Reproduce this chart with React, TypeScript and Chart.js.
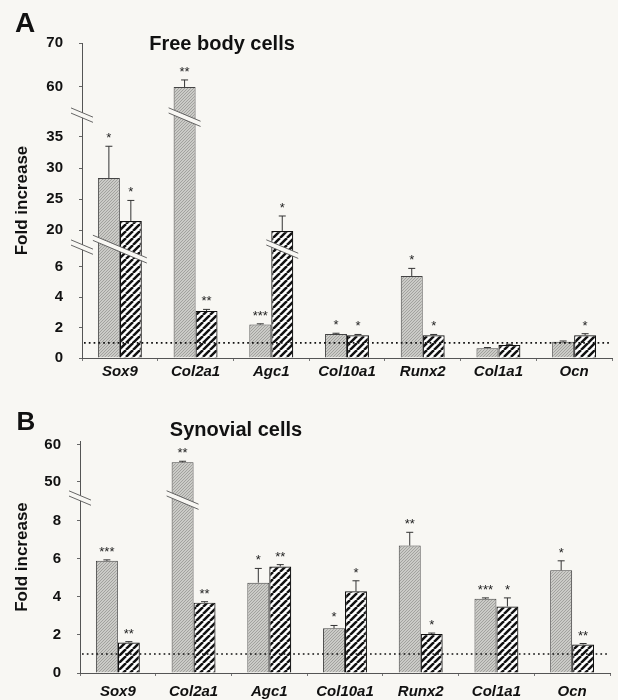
import React, { useEffect, useRef } from 'react';
import { Chart, LinearScale, registerables } from 'chart.js';

// ---------------- data ----------------
const genes = ['Sox9', 'Col2a1', 'Agc1', 'Col10a1', 'Runx2', 'Col1a1', 'Ocn'];

// Panel A: Free body cells
const freeGray = [28.4, 60, 2.2, 1.58, 5.4, 0.64, 1.07];
const freeGrayErr = [5.1, 1.6, 0.05, 0.05, 0.5, 0.05, 0.05];
const freeHatch = [21.5, 3.1, 19.9, 1.5, 1.5, 0.85, 1.5];
const freeHatchErr = [3.3, 0.1, 2.4, 0.05, 0.05, 0.05, 0.1];
const freeGrayStars = ['*', '**', '***', '*', '*', '', ''];
const freeHatchStars = ['*', '**', '*', '*', '*', '', '*'];
const freeTicks = [0, 2, 4, 6, 20, 25, 30, 35, 60, 70];

// Panel B: Synovial cells
const synGray = [5.9, 55.2, 4.75, 2.35, 6.7, 3.9, 5.4];
const synGrayErr = [0.05, 0.3, 0.75, 0.15, 0.7, 0.05, 0.5];
const synHatch = [1.6, 3.7, 5.6, 4.3, 2.05, 3.5, 1.5];
const synHatchErr = [0.05, 0.05, 0.1, 0.55, 0.05, 0.45, 0.05];
const synGrayStars = ['***', '**', '*', '*', '**', '***', '*'];
const synHatchStars = ['**', '**', '**', '*', '*', '*', '**'];
const synTicks = [0, 2, 4, 6, 8, 50, 60];

// broken-axis segments (value ranges and their share of axis height)
type Seg = { from: number; to: number; share: number };
const freeSegments: Seg[] = [
  { from: 0, to: 7.3, share: 0.352 },
  { from: 17.3, to: 38.5, share: 0.419 },
  { from: 53.6, to: 70, share: 0.229 },
];
const synSegments: Seg[] = [
  { from: 0, to: 9.2, share: 0.754 },
  { from: 45.5, to: 61, share: 0.246 },
];
const SEGMENTS: Record<string, Seg[]> = { free: freeSegments, syn: synSegments };

const BG = '#f8f7f3';
const FONT = '"Liberation Sans", Arial, Helvetica, sans-serif';

// ---------------- broken scale ----------------
class BrokenScale extends LinearScale {
  static id = 'broken';
  segs(): Seg[] {
    return SEGMENTS[(this.options as any).segmentKey] || [{ from: 0, to: 1, share: 1 }];
  }
  getPixelForValue(value: number) {
    const segs = this.segs();
    const h = this.bottom - this.top;
    let acc = 0;
    for (let i = 0; i < segs.length; i++) {
      const s = segs[i];
      if (value <= s.to || i === segs.length - 1) {
        const v = Math.max(s.from, Math.min(value, s.to));
        return this.bottom - (acc + ((v - s.from) / (s.to - s.from)) * s.share) * h;
      }
      acc += s.share;
    }
    return this.bottom;
  }
  getValueForPixel(pixel: number) {
    const segs = this.segs();
    const h = this.bottom - this.top;
    const f = (this.bottom - pixel) / h;
    let acc = 0;
    for (let i = 0; i < segs.length; i++) {
      const s = segs[i];
      if (f <= acc + s.share || i === segs.length - 1) {
        return s.from + ((f - acc) / s.share) * (s.to - s.from);
      }
      acc += s.share;
    }
    return 0;
  }
}

Chart.register(...registerables, BrokenScale as any);

// ---------------- helpers ----------------
function makePattern(kind: 'gray' | 'hatch'): CanvasPattern | string {
  const c = document.createElement('canvas');
  const s = kind === 'gray' ? 3 : 7;
  c.width = s;
  c.height = s;
  const g = c.getContext('2d');
  if (!g) return kind === 'gray' ? '#c8c8c4' : '#888';
  g.fillStyle = kind === 'gray' ? '#cbcbc7' : '#ffffff';
  g.fillRect(0, 0, s, s);
  g.strokeStyle = kind === 'gray' ? '#979793' : '#111111';
  g.lineWidth = kind === 'gray' ? 0.8 : 2.5;
  for (let k = -1; k <= 1; k++) {
    g.beginPath();
    g.moveTo(k * s, s);
    g.lineTo(k * s + s, 0);
    g.stroke();
  }
  const p = g.createPattern(c, 'repeat');
  return p || '#ccc';
}

function drawBreak(ctx: CanvasRenderingContext2D, cx: number, cy: number, halfW: number) {
  const slope = 0.42;
  const gap = 2.6;
  ctx.save();
  ctx.beginPath();
  ctx.moveTo(cx - halfW, cy - halfW * slope - gap);
  ctx.lineTo(cx + halfW, cy + halfW * slope - gap);
  ctx.lineTo(cx + halfW, cy + halfW * slope + gap);
  ctx.lineTo(cx - halfW, cy - halfW * slope + gap);
  ctx.closePath();
  ctx.fillStyle = BG;
  ctx.fill();
  ctx.strokeStyle = '#555';
  ctx.lineWidth = 0.9;
  ctx.beginPath();
  ctx.moveTo(cx - halfW, cy - halfW * slope - gap);
  ctx.lineTo(cx + halfW, cy + halfW * slope - gap);
  ctx.moveTo(cx - halfW, cy - halfW * slope + gap);
  ctx.lineTo(cx + halfW, cy + halfW * slope + gap);
  ctx.stroke();
  ctx.restore();
}

type PanelSpec = {
  key: string;
  letter: string;
  title: string;
  titleX: number;
  titleY: number;
  letterX: number;
  letterY: number;
  letterSize: number;
  gray: number[];
  grayErr: number[];
  hatch: number[];
  hatchErr: number[];
  grayStars: string[];
  hatchStars: string[];
  ticks: number[];
  max: number;
  padTop: number;
  padRight: number;
  yWidth: number;
  xHeight: number;
  xPad: number;
};

function buildChart(canvas: HTMLCanvasElement, sp: PanelSpec) {
  const segs = SEGMENTS[sp.key];
  const values = [sp.gray, sp.hatch];
  const errs = [sp.grayErr, sp.hatchErr];
  const stars = [sp.grayStars, sp.hatchStars];

  const overlay = {
    id: 'overlay_' + sp.key,
    afterDatasetsDraw(chart: any) {
      const ctx: CanvasRenderingContext2D = chart.ctx;
      const y = chart.scales.y;
      const area = chart.chartArea;
      const metas = [chart.getDatasetMeta(0), chart.getDatasetMeta(1)];

      // break marks across bars (only at the topmost break crossed)
      for (let b = 0; b < segs.length - 1; b++) {
        const py = y.getPixelForValue(segs[b].to);
        for (let j = 0; j < genes.length; j++) {
          let minX = Infinity;
          let maxX = -Infinity;
          for (let d = 0; d < 2; d++) {
            const v = values[d][j];
            const crosses = v >= segs[b + 1].from;
            const higher = b + 2 < segs.length && v >= segs[b + 2].from;
            if (crosses && !higher) {
              const el = metas[d].data[j];
              minX = Math.min(minX, el.x - el.width / 2);
              maxX = Math.max(maxX, el.x + el.width / 2);
            }
          }
          if (minX < maxX) {
            drawBreak(ctx, (minX + maxX) / 2, py + 2, (maxX - minX) / 2 + 5);
          }
        }
      }

      // dotted reference line at 1
      const p1 = y.getPixelForValue(1);
      ctx.save();
      ctx.strokeStyle = '#111';
      ctx.lineWidth = 1.7;
      ctx.setLineDash([1.7, 3.1]);
      ctx.beginPath();
      ctx.moveTo(area.left + 2, p1);
      ctx.lineTo(area.right, p1);
      ctx.stroke();
      ctx.restore();

      // error bars and stars
      for (let d = 0; d < 2; d++) {
        for (let j = 0; j < genes.length; j++) {
          const el = metas[d].data[j];
          const v = values[d][j];
          const e = errs[d][j];
          const yb = y.getPixelForValue(v);
          const yt = y.getPixelForValue(v + e);
          ctx.save();
          ctx.strokeStyle = '#333';
          ctx.lineWidth = 1;
          ctx.beginPath();
          ctx.moveTo(el.x, yb);
          ctx.lineTo(el.x, yt);
          ctx.moveTo(el.x - 3.5, yt);
          ctx.lineTo(el.x + 3.5, yt);
          ctx.stroke();
          const st = stars[d][j];
          if (st) {
            ctx.fillStyle = '#222';
            ctx.font = '13px ' + FONT;
            ctx.textAlign = 'center';
            ctx.textBaseline = 'alphabetic';
            ctx.fillText(st, el.x, yt - 4);
          }
          ctx.restore();
        }
      }
    },
    afterDraw(chart: any) {
      const ctx: CanvasRenderingContext2D = chart.ctx;
      const y = chart.scales.y;
      const area = chart.chartArea;
      for (let b = 0; b < segs.length - 1; b++) {
        const py = y.getPixelForValue(segs[b].to);
        drawBreak(ctx, area.left, py, 11);
      }
      ctx.save();
      ctx.fillStyle = '#111';
      ctx.textBaseline = 'middle';
      ctx.textAlign = 'center';
      ctx.font = 'bold ' + sp.letterSize + 'px ' + FONT;
      ctx.fillText(sp.letter, sp.letterX, sp.letterY);
      ctx.font = 'bold 20px ' + FONT;
      ctx.fillText(sp.title, sp.titleX, sp.titleY);
      ctx.restore();
    },
  };

  return new Chart(canvas, {
    type: 'bar',
    data: {
      labels: genes,
      datasets: [
        {
          data: sp.gray,
          backgroundColor: makePattern('gray') as any,
          borderColor: '#444',
          borderWidth: 1,
          categoryPercentage: 0.58,
          barPercentage: 1,
        },
        {
          data: sp.hatch,
          backgroundColor: makePattern('hatch') as any,
          borderColor: '#111',
          borderWidth: 1.2,
          categoryPercentage: 0.58,
          barPercentage: 1,
        },
      ],
    },
    options: {
      responsive: false,
      animation: false,
      layout: { padding: { top: sp.padTop, right: sp.padRight, left: 0, bottom: 0 } },
      plugins: { legend: { display: false }, tooltip: { enabled: false }, title: { display: false } },
      scales: {
        x: {
          afterFit: (s: any) => {
            s.height = sp.xHeight;
          },
          border: { display: true, color: '#555', width: 1 },
          grid: { display: true, drawOnChartArea: false, tickLength: 3, color: '#777' },
          ticks: {
            color: '#111',
            padding: sp.xPad,
            font: { family: FONT, size: 15, style: 'italic', weight: 'bold' },
            maxRotation: 0,
            autoSkip: false,
          },
        },
        y: {
          type: 'broken' as any,
          segmentKey: sp.key,
          min: 0,
          max: sp.max,
          afterFit: (s: any) => {
            s.width = sp.yWidth;
          },
          afterBuildTicks: (s: any) => {
            s.ticks = sp.ticks.map((v) => ({ value: v }));
          },
          border: { display: true, color: '#555', width: 1 },
          grid: { display: true, drawOnChartArea: false, tickLength: 3, color: '#666' },
          title: {
            display: true,
            text: 'Fold increase',
            color: '#111',
            font: { family: FONT, size: 17, weight: 'bold' },
            padding: { top: 12, bottom: 0 },
          },
          ticks: {
            color: '#111',
            padding: 16,
            autoSkip: false,
            font: { family: FONT, size: 15, weight: 'bold' },
            callback: (v: any) => String(v),
          },
        } as any,
      },
    },
    plugins: [overlay],
  });
}

const specA: PanelSpec = {
  key: 'free',
  letter: 'A',
  title: 'Free body cells',
  titleX: 222,
  titleY: 44,
  letterX: 25,
  letterY: 24,
  letterSize: 28,
  gray: freeGray,
  grayErr: freeGrayErr,
  hatch: freeHatch,
  hatchErr: freeHatchErr,
  grayStars: freeGrayStars,
  hatchStars: freeHatchStars,
  ticks: freeTicks,
  max: 70,
  padTop: 43,
  padRight: 6,
  yWidth: 82,
  xHeight: 32,
  xPad: 2,
};

const specB: PanelSpec = {
  key: 'syn',
  letter: 'B',
  title: 'Synovial cells',
  titleX: 236,
  titleY: 40,
  letterX: 26,
  letterY: 33,
  letterSize: 26,
  gray: synGray,
  grayErr: synGrayErr,
  hatch: synHatch,
  hatchErr: synHatchErr,
  grayStars: synGrayStars,
  hatchStars: synHatchStars,
  ticks: synTicks,
  max: 61,
  padTop: 51,
  padRight: 8,
  yWidth: 80,
  xHeight: 27,
  xPad: 7,
};

function Panel({ spec, top, height }: { spec: PanelSpec; top: number; height: number }) {
  const ref = useRef<HTMLCanvasElement | null>(null);
  useEffect(() => {
    if (!ref.current) return;
    const chart = buildChart(ref.current, spec);
    return () => chart.destroy();
  }, [spec]);
  return (
    <div style={{ position: 'absolute', left: 0, top, width: 618, height }}>
      <canvas ref={ref} width={618} height={height} style={{ display: 'block', width: 618, height }} />
    </div>
  );
}

export default function App() {
  return (
    <div style={{ position: 'absolute', left: 0, top: 0, width: 618, height: 700, background: BG, overflow: 'hidden' }}>
      <Panel spec={specA} top={0} height={390} />
      <Panel spec={specB} top={390} height={310} />
    </div>
  );
}
